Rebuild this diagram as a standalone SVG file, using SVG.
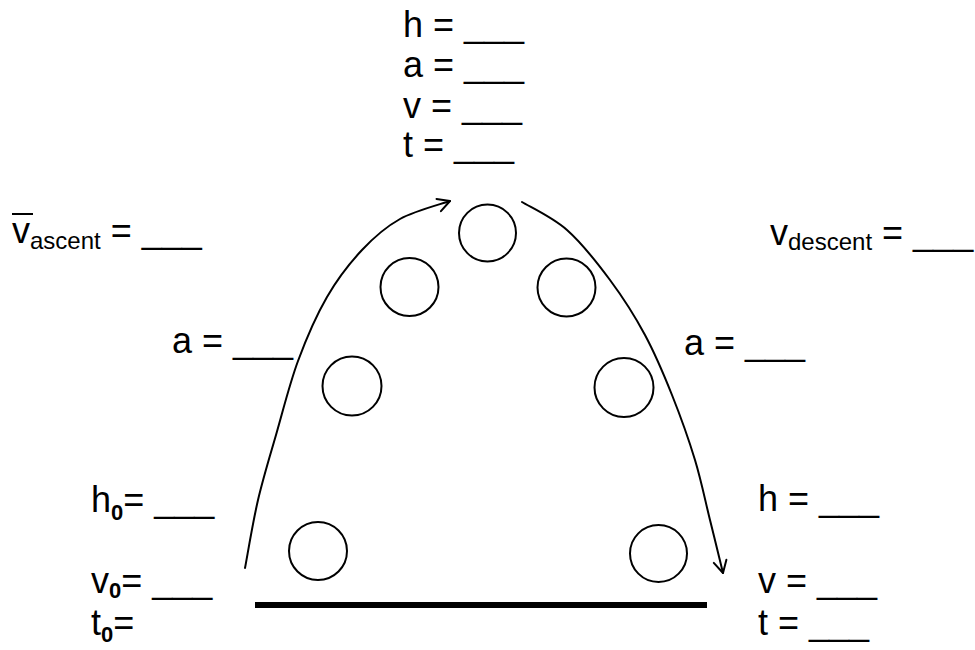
<svg xmlns="http://www.w3.org/2000/svg" width="975" height="650" viewBox="0 0 975 650">
  <style>
    text { font-family: "Liberation Sans", Arial, sans-serif; font-size: 36px; fill: #000; }
    .sub { font-size: 24px; }
    .zero { font-size: 22px; font-weight: bold; }
    .ball { fill: none; stroke: #000; stroke-width: 2; }
    .path { fill: none; stroke: #000; stroke-width: 2; stroke-linecap: round; }
  </style>
  <defs>
    <marker id="chev" viewBox="-14 -8 16 16" markerWidth="16" markerHeight="16" refX="0" refY="0" orient="auto" markerUnits="userSpaceOnUse">
      <path d="M-12,-6.5 L0,0 L-12,6.5" fill="none" stroke="#000" stroke-width="2" stroke-linecap="round" stroke-linejoin="round"/>
    </marker>
  </defs>
  <rect x="0" y="0" width="975" height="650" fill="#fff"/>

  <g id="connectors">
    <path class="path" marker-end="url(#chev)" d="M245,568 C247.2,556.7 252.8,522.2 258,500 C263.2,477.8 269.3,458.2 276,435 C282.7,411.8 289.5,384 298,361 C306.5,338 316.3,315.5 327,297 C337.7,278.5 349.8,263 362,250 C374.2,237 385.3,227.2 400,219 C414.7,210.8 441.7,204 450,201"/>
    <path class="path" marker-end="url(#chev)" d="M522,202 C529.5,206.7 552.3,217 567,230 C581.7,243 597,262.5 610,280 C623,297.5 634.7,315.8 645,335 C655.3,354.2 663.7,374.2 672,395 C680.3,415.8 688.7,439.2 695,460 C701.3,480.8 705.3,501.2 710,520 C714.7,538.8 720.8,564.2 723,573"/>
  </g>

  <g id="ground">
    <line x1="255" y1="605" x2="707" y2="605" stroke="#000" stroke-width="6"/>
  </g>

  <g id="ball-top"><circle class="ball" cx="487.5" cy="233" r="28.5"/></g>
  <g id="ball-up-left"><circle class="ball" cx="409.5" cy="287" r="29"/></g>
  <g id="ball-up-right"><circle class="ball" cx="566.5" cy="287.5" r="29"/></g>
  <g id="ball-mid-left"><circle class="ball" cx="352" cy="386" r="29.5"/></g>
  <g id="ball-mid-right"><circle class="ball" cx="624" cy="387.5" r="29.5"/></g>
  <g id="ball-low-left"><circle class="ball" cx="318" cy="551" r="29"/></g>
  <g id="ball-low-right"><circle class="ball" cx="658.5" cy="553.5" r="28.5"/></g>

  <g id="label-top">
    <text x="403" y="37">h = ___</text>
    <text x="403" y="77">a = ___</text>
    <text x="403" y="118">v = ___</text>
    <text x="403" y="157">t = ___</text>
  </g>

  <g id="label-ascent">
    <line x1="12" y1="214" x2="33" y2="214" stroke="#000" stroke-width="2"/>
    <text x="12" y="243">v<tspan class="sub" y="249">ascent</tspan><tspan y="243"> = ___</tspan></text>
  </g>

  <g id="label-descent">
    <text x="770" y="245">v<tspan class="sub" y="250">descent</tspan><tspan y="245"> = ___</tspan></text>
  </g>

  <g id="label-a-left">
    <text x="172" y="353">a = ___</text>
  </g>
  <g id="label-a-right">
    <text x="684" y="355">a = ___</text>
  </g>

  <g id="label-start">
    <text x="91" y="512">h<tspan class="zero" y="520">0</tspan><tspan y="512">= ___</tspan></text>
    <text x="91" y="593">v<tspan class="zero" y="598">0</tspan><tspan y="593">= ___</tspan></text>
    <text x="91" y="635">t<tspan class="zero" y="642">0</tspan><tspan y="635">=</tspan></text>
  </g>

  <g id="label-end">
    <text x="758" y="511">h = ___</text>
    <text x="758" y="593">v = ___</text>
    <text x="758" y="635">t = ___</text>
  </g>
</svg>
